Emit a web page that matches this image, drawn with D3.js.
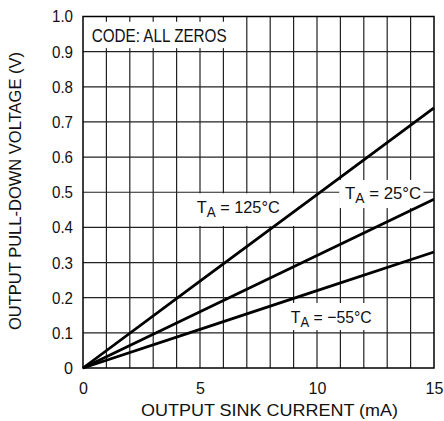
<!DOCTYPE html>
<html><head><meta charset="utf-8">
<script src="https://cdn.jsdelivr.net/npm/d3@7"></script>
<style>
html,body{margin:0;padding:0;background:#fff;}
text{font-family:"Liberation Sans Narrow","Arial Narrow","Liberation Sans",Arial,sans-serif;fill:#111;}
</style></head>
<body><svg id="c" width="444" height="421"></svg>
<script>
const currents = [0, 5, 10, 15];
const v125 = [0, 0.247, 0.493, 0.74];
const v25 = [0, 0.16, 0.32, 0.48];
const vm55 = [0, 0.11, 0.22, 0.33];
const xTicks = [0, 5, 10, 15];
const yTicks = [0, 0.1, 0.2, 0.3, 0.4, 0.5, 0.6, 0.7, 0.8, 0.9, 1.0];
const yTickLabels = ["0", "0.1", "0.2", "0.3", "0.4", "0.5", "0.6", "0.7", "0.8", "0.9", "1.0"];
const seriesNames = ["125°C", "25°C", "\u221255°C"];

const svg = d3.select("#c");
const L = 83, R = 434, T = 16.5, B = 368;
const x = d3.scaleLinear().domain([0, 15]).range([L, R]);
const y = d3.scaleLinear().domain([0, 1]).range([B, T]);

// grid
const g = svg.append("g");
g.selectAll("line.v").data(d3.range(1, 15)).enter().append("line")
  .attr("x1", d => x(d)).attr("x2", d => x(d)).attr("y1", T).attr("y2", B)
  .attr("stroke", "#222").attr("stroke-width", 1.2);
g.selectAll("line.h").data(yTicks.slice(1, -1)).enter().append("line")
  .attr("y1", d => y(d)).attr("y2", d => y(d)).attr("x1", L).attr("x2", R)
  .attr("stroke", "#222").attr("stroke-width", 1.2);

// label boxes (white, hide grid)
function box(x0, y0, x1, y1) {
  svg.append("rect").attr("x", x(x0)).attr("y", y(y1))
    .attr("width", x(x1) - x(x0)).attr("height", y(y0) - y(y1)).attr("fill", "#fff");
}
box(0.03, 0.91, 6.4, 0.985);
box(4.55, 0.404, 9.1, 0.497);
box(10.95, 0.455, 14.55, 0.535);
box(8.65, 0.108, 12.5, 0.185);

const FF = '"Liberation Sans Narrow","Arial Narrow","Liberation Sans",sans-serif';
// axis ticks & labels
svg.append("g").attr("transform", `translate(0,${B})`)
  .call(d3.axisBottom(x).tickValues(xTicks).tickSize(0).tickPadding(15).tickFormat(d3.format("d")))
  .call(a => a.select(".domain").remove())
  .call(a => a.selectAll("text").attr("font-size", 16).attr("fill", "#111").attr("font-family", FF));
svg.append("g").attr("transform", `translate(${L},0)`)
  .call(d3.axisLeft(y).tickValues(yTicks).tickSize(0).tickPadding(10).tickFormat((d, i) => yTickLabels[i]))
  .call(a => a.select(".domain").remove())
  .call(a => a.selectAll("text").attr("font-size", 17).attr("fill", "#111").attr("font-family", FF)
      .each(function () { const n = this.textContent.length; this.setAttribute("textLength", n === 1 ? 9 : 21); this.setAttribute("lengthAdjust", "spacingAndGlyphs"); }));

// lines
const line = d3.line().x((d, i) => x(currents[i])).y(d => y(d));
[v125, v25, vm55].forEach(s => {
  svg.append("path").attr("d", line(s)).attr("fill", "none")
    .attr("stroke", "#000").attr("stroke-width", 2.8);
});

// frame
svg.append("rect").attr("x", L).attr("y", T).attr("width", R - L).attr("height", B - T)
  .attr("fill", "none").attr("stroke", "#000").attr("stroke-width", 1.5);

// labels
svg.append("text").attr("x", x(0.37)).attr("y", y(0.927)).attr("font-size", 18)
  .attr("textLength", 135).attr("lengthAdjust", "spacingAndGlyphs").text("CODE: ALL ZEROS");
function tLabel(xv, yv, name, len) {
  const t = svg.append("text").attr("x", x(xv)).attr("y", y(yv)).attr("font-size", 17)
    .attr("textLength", len).attr("lengthAdjust", "spacingAndGlyphs");
  t.append("tspan").text("T");
  t.append("tspan").attr("dy", 4).attr("font-size", 14).text("A");
  t.append("tspan").attr("dy", -4).text(" = " + name);
}
tLabel(4.86, 0.44, seriesNames[0], 83);
tLabel(11.2, 0.481, seriesNames[1], 76);
tLabel(8.88, 0.129, seriesNames[2], 81);

// axis titles
svg.append("text").attr("x", 141).attr("y", 416).attr("font-size", 17)
  .attr("textLength", 257).attr("lengthAdjust", "spacingAndGlyphs")
  .text("OUTPUT SINK CURRENT (mA)");
svg.append("text").attr("transform", "translate(21,330) rotate(-90)")
  .attr("font-size", 17).attr("textLength", 278).attr("lengthAdjust", "spacingAndGlyphs")
  .text("OUTPUT PULL-DOWN VOLTAGE (V)");
</script></body></html>
